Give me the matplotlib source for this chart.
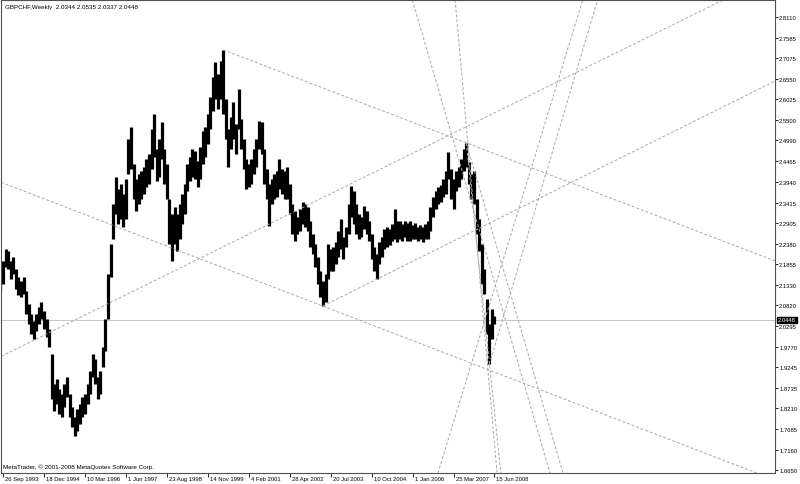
import numpy as np
import matplotlib.pyplot as plt
from matplotlib.transforms import ScaledTranslation, blended_transform_factory

plt.rcParams['font.family'] = ['Liberation Sans', 'DejaVu Sans']

# GBPCHF weekly (each entry ~4 weeks)
high = [2.161, 2.194, 2.224, 2.219, 2.194, 2.204, 2.174, 2.153, 2.143, 2.153,
        2.118, 2.085, 2.060, 2.042, 2.060, 2.077, 2.090, 2.067, 2.047, 2.022,
        1.958, 1.883, 1.895, 1.870, 1.857, 1.883, 1.900, 1.857, 1.824, 1.799,
        1.819, 1.832, 1.850, 1.857, 1.883, 1.915, 1.958, 1.946, 1.900, 1.915,
        1.976, 2.047, 2.161, 2.237, 2.338, 2.406, 2.376, 2.389, 2.363, 2.401,
        2.502, 2.533, 2.439, 2.401, 2.414, 2.421, 2.432, 2.452, 2.464, 2.528,
        2.566, 2.477, 2.502, 2.545, 2.477, 2.439, 2.351, 2.313, 2.330, 2.313,
        2.338, 2.363, 2.389, 2.439, 2.457, 2.477, 2.472, 2.447, 2.482, 2.523,
        2.533, 2.566, 2.609, 2.659, 2.697, 2.667, 2.700, 2.728, 2.604, 2.528,
        2.558, 2.596, 2.540, 2.629, 2.553, 2.502, 2.452, 2.439, 2.452, 2.477,
        2.502, 2.548, 2.545, 2.477, 2.427, 2.389, 2.401, 2.414, 2.421, 2.452,
        2.427, 2.421, 2.432, 2.389, 2.338, 2.320, 2.305, 2.325, 2.343, 2.338,
        2.330, 2.295, 2.262, 2.237, 2.204, 2.168, 2.143, 2.161, 2.237, 2.224,
        2.229, 2.242, 2.270, 2.300, 2.255, 2.280, 2.338, 2.384, 2.371, 2.338,
        2.313, 2.305, 2.333, 2.320, 2.295, 2.262, 2.229, 2.211, 2.242, 2.255,
        2.275, 2.280, 2.275, 2.287, 2.325, 2.295, 2.295, 2.287, 2.295, 2.290,
        2.295, 2.285, 2.290, 2.280, 2.285, 2.280, 2.287, 2.295, 2.330, 2.356,
        2.371, 2.381, 2.386, 2.401, 2.421, 2.470, 2.427, 2.401, 2.421, 2.432,
        2.452, 2.477, 2.492, 2.444, 2.414, 2.421, 2.351, 2.300, 2.237, 2.174,
        2.098, 2.034, 2.072, 2.0535]
low = [2.118, 2.136, 2.179, 2.174, 2.148, 2.161, 2.123, 2.108, 2.103, 2.110,
       2.060, 2.034, 2.009, 1.996, 2.017, 2.034, 2.047, 2.022, 2.002, 1.976,
       1.845, 1.814, 1.832, 1.807, 1.799, 1.824, 1.850, 1.799, 1.774, 1.751,
       1.764, 1.781, 1.799, 1.807, 1.832, 1.857, 1.900, 1.883, 1.845, 1.857,
       1.926, 1.966, 2.047, 2.153, 2.249, 2.313, 2.287, 2.300, 2.280, 2.300,
       2.414, 2.427, 2.351, 2.320, 2.338, 2.351, 2.363, 2.381, 2.389, 2.427,
       2.457, 2.396, 2.406, 2.452, 2.389, 2.351, 2.237, 2.194, 2.237, 2.219,
       2.249, 2.287, 2.313, 2.371, 2.396, 2.406, 2.401, 2.381, 2.401, 2.439,
       2.457, 2.490, 2.528, 2.573, 2.604, 2.578, 2.604, 2.566, 2.502, 2.432,
       2.477, 2.502, 2.464, 2.528, 2.477, 2.427, 2.376, 2.381, 2.389, 2.414,
       2.432, 2.477, 2.464, 2.389, 2.351, 2.282, 2.338, 2.351, 2.356, 2.376,
       2.363, 2.351, 2.351, 2.313, 2.262, 2.244, 2.262, 2.270, 2.287, 2.280,
       2.270, 2.229, 2.211, 2.179, 2.136, 2.103, 2.080, 2.090, 2.148, 2.168,
       2.168, 2.186, 2.204, 2.224, 2.199, 2.229, 2.262, 2.305, 2.287, 2.262,
       2.249, 2.255, 2.275, 2.262, 2.244, 2.199, 2.168, 2.148, 2.186, 2.204,
       2.224, 2.229, 2.234, 2.244, 2.249, 2.242, 2.249, 2.244, 2.255, 2.244,
       2.244, 2.249, 2.249, 2.244, 2.249, 2.242, 2.249, 2.249, 2.270, 2.305,
       2.325, 2.338, 2.343, 2.356, 2.363, 2.401, 2.351, 2.325, 2.371, 2.381,
       2.401, 2.421, 2.432, 2.389, 2.351, 2.338, 2.262, 2.219, 2.136, 2.110,
       2.009, 1.933, 1.996, 2.0337]
last_open, last_high, last_low, last_close = 2.0344, 2.0535, 2.0337, 2.0448

price_ticks = [2.8110, 2.7585, 2.7075, 2.6550, 2.6025, 2.5500, 2.4990, 2.4465,
               2.3940, 2.3415, 2.2905, 2.2380, 2.1855, 2.1330, 2.0820, 2.0295,
               1.9770, 1.9245, 1.8735, 1.8210, 1.7685, 1.7160, 1.6650]
date_pos = [1, 17, 33, 49, 65, 81, 97, 113, 129, 145, 161, 177, 193]
date_labels = ["26 Sep 1993", "18 Dec 1994", "10 Mar 1996", "1 Jun 1997",
               "23 Aug 1998", "14 Nov 1999", "4 Feb 2001", "28 Apr 2002",
               "20 Jul 2003", "10 Oct 2004", "1 Jan 2006", "25 Mar 2007",
               "15 Jun 2008"]

# trend lines: (bar, price) anchor pairs
peak99, low02, peak07, low08 = 87, 126, 182, 191
rays = [((peak99, high[peak99]), (302.6, 2.194)),
        ((low02, low[low02]), (302.6, 2.649)),
        ((peak07, high[peak07]), (219.8, 1.657)),
        ((peak07, high[peak07]), (195.5, 1.657)),
        ((low08, low[low08]), (233.4, 2.857))]
full_lines = [((-0.2, 1.951), (282.3, 2.854)),
              ((-0.2, 2.394), (295.6, 1.657)),
              ((160.8, 2.857), (214.7, 1.657)),
              ((177.6, 2.857), (194.0, 1.657)),
              ((170.9, 1.657), (227.6, 2.857))]

fig = plt.figure(figsize=(8, 4.85), dpi=100)
ax = fig.add_axes([1 / 800, 11 / 485, 774 / 800, 473 / 485])

bars = np.arange(len(high))
ax.vlines(bars, low, high, color='black', linewidth=2.3)

ax.axhline(last_close, color='#c8c8c8', linewidth=0.7, zorder=0)
tl = dict(color='#a8a8a8', linewidth=0.7, dashes=(3, 2))
for (x1, y1), (x2, y2) in rays:
    ax.plot([x1, x1 + 5 * (x2 - x1)], [y1, y1 + 5 * (y2 - y1)], **tl)
for p1, p2 in full_lines:
    ax.axline(p1, p2, **tl)

ax.set_xlim(0.2, 302.6)
ax.set_ylim(1.6574, 2.8541)

ax.yaxis.tick_right()
ax.set_yticks(price_ticks, ['%.4f' % p for p in price_ticks])
ax.set_xticks(date_pos, date_labels)
ax.tick_params(axis='y', length=2, width=0.6, pad=1, labelsize=4.2)
ax.tick_params(axis='x', length=3, width=0.6, pad=-1, labelsize=4.2)
off = ScaledTranslation(2 / 100, 0, fig.dpi_scale_trans)
for lab in ax.get_xticklabels():
    lab.set_horizontalalignment('left')
    lab.set_transform(lab.get_transform() + off)
for s in ax.spines.values():
    s.set_color('#505050')
    s.set_linewidth(0.8)

trans = blended_transform_factory(ax.transAxes, ax.transData)
ax.text(1.004, last_close, '%.4f' % last_close, transform=trans, ha='left',
        va='center', fontsize=4.2, color='white',
        bbox=dict(boxstyle='square,pad=0.15', fc='black', ec='black'))

ax.text(0.005, 0.987, 'GBPCHF,Weekly  %.4f %.4f %.4f %.4f'
        % (last_open, last_high, last_low, last_close),
        transform=ax.transAxes, fontsize=4.5, va='center', ha='left')
ax.text(0.003, 0.015, 'MetaTrader, \u00a9 2001-2008 MetaQuotes Software Corp.',
        transform=ax.transAxes, fontsize=4.5, va='center', ha='left')

fig.savefig('out.png', dpi=100)
